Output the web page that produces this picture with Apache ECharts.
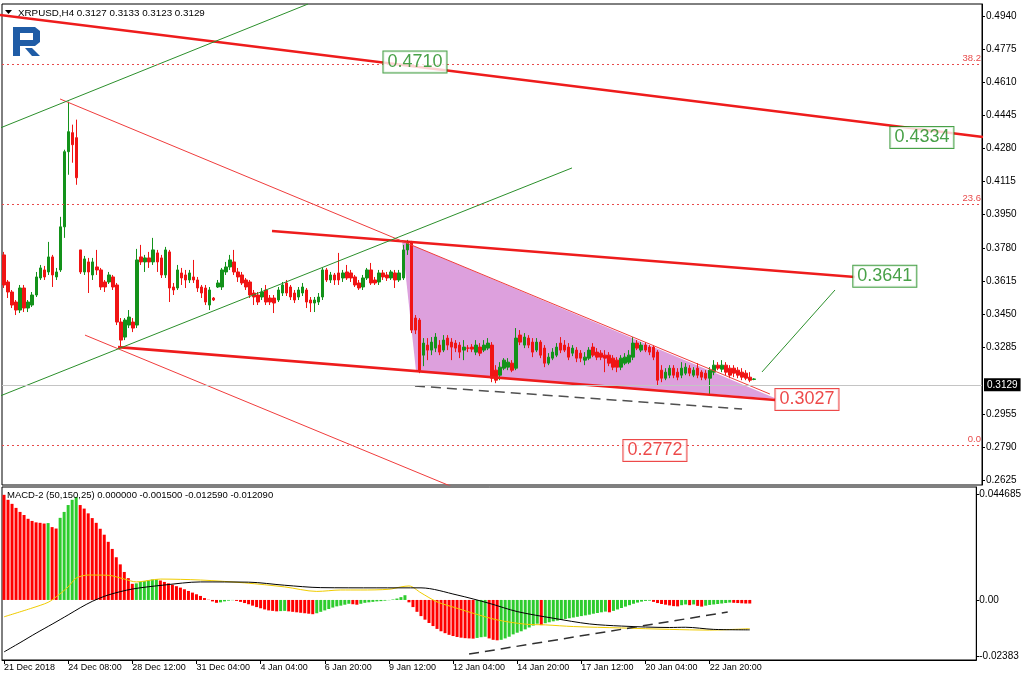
<!DOCTYPE html>
<html><head><meta charset="utf-8">
<script src="https://cdn.jsdelivr.net/npm/echarts@6/dist/echarts.min.js"></script>
<style>html,body{margin:0;padding:0;background:#fff}#c{width:1024px;height:683px}</style>
</head><body><div id="c"></div>
<script>
// ---- candle data (XRPUSD H4) ----
const opens=[.3748,.3613,.3563,.3513,.3473,.3583,.3483,.3498,.3548,.3633,
.3673,.3663,.3738,.3638,.3673,.3888,.4263,.4358,.4333,.3773,
.3663,.3713,.3648,.3688,.3673,.3613,.3613,.3638,.3598,.3413,
.3338,.3398,.3413,.3398,.3738,.3713,.3733,.3713,.3758,.3733,
.3648,.3763,.3588,.3583,.3658,.3648,.3623,.3638,.3623,.3588,
.3583,.3498,.3533,.3588,.3588,.3663,.3688,.3713,.3663,.3648,
.3623,.3613,.3558,.3548,.3538,.3573,.3533,.3533,.3523,.3558,
.3608,.3588,.3558,.3538,.3558,.3573,.3523,.3508,.3513,.3538,
.3673,.3623,.3648,.3658,.3633,.3663,.3658,.3638,.3608,.3588,
.3633,.3673,.3623,.3613,.3658,.3648,.3633,.3658,.3623,.3633,
.3773,.3808,.3433,.3423,.3248,.3298,.3273,.3283,.3298,.3273,
.3333,.3313,.3308,.3298,.3273,.3283,.3288,.3263,.3288,.3273,
.3283,.3298,.3173,.3148,.3183,.3188,.3208,.3183,.3348,.3298,
.3333,.3313,.3273,.3313,.3283,.3208,.3233,.3248,.3308,.3298,
.3288,.3258,.3273,.3258,.3223,.3233,.3288,.3263,.3258,.3248,
.3248,.3233,.3223,.3188,.3208,.3213,.3238,.3308,.3273,.3298,
.3288,.3288,.3263,.3173,.3133,.3148,.3183,.3163,.3148,.3158,
.3183,.3148,.3183,.3163,.3158,.3133,.3163,.3198,.3178,.3198,
.3183,.3183,.3173,.3163,.3158,.3138,.3127];
const closes=[.3598,.3563,.3498,.3473,.3583,.3483,.3513,.3548,.3638,.3683,
.3638,.3738,.3648,.3663,.3888,.4263,.4363,.4298,.4133,.3663,
.3728,.3663,.3713,.3673,.3588,.3588,.3648,.3588,.3413,.3323,
.3423,.3438,.3383,.3723,.3713,.3733,.3713,.3773,.3713,.3648,
.3773,.3583,.3573,.3673,.3633,.3623,.3658,.3623,.3583,.3558,
.3513,.3573,.3523,.3608,.3673,.3688,.3723,.3663,.3638,.3608,
.3588,.3548,.3538,.3513,.3563,.3513,.3513,.3508,.3573,.3598,
.3558,.3538,.3523,.3573,.3588,.3513,.3508,.3523,.3538,.3673,
.3623,.3648,.3623,.3623,.3658,.3633,.3633,.3598,.3583,.3633,
.3673,.3608,.3608,.3658,.3638,.3633,.3663,.3623,.3658,.3773,
.3808,.3373,.3373,.3173,.3308,.3273,.3313,.3338,.3263,.3323,
.3298,.3288,.3283,.3263,.3288,.3283,.3278,.3298,.3258,.3298,
.3308,.3133,.3123,.3188,.3223,.3213,.3173,.3333,.3313,.3338,
.3298,.3263,.3313,.3248,.3208,.3238,.3263,.3288,.3273,.3273,
.3238,.3283,.3233,.3233,.3238,.3273,.3248,.3238,.3238,.3233,
.3208,.3188,.3188,.3233,.3238,.3248,.3308,.3283,.3298,.3273,
.3263,.3238,.3123,.3133,.3163,.3183,.3148,.3138,.3183,.3188,
.3158,.3173,.3148,.3138,.3133,.3173,.3198,.3183,.3198,.3163,
.3148,.3158,.3148,.3138,.3133,.3123,.3129];
const lows=[.3583,.3533,.3483,.3448,.3458,.3463,.3463,.3488,.3538,.3623,
.3623,.3648,.3588,.3623,.3663,.3833,.4148,.4208,.4098,.3653,
.3648,.3558,.3623,.3648,.3573,.3563,.3603,.3573,.3398,.3283,
.3323,.3383,.3363,.3383,.3698,.3663,.3683,.3698,.3663,.3633,
.3633,.3513,.3548,.3573,.3598,.3583,.3608,.3608,.3563,.3533,
.3498,.3473,.3518,.3583,.3573,.3648,.3673,.3648,.3613,.3598,
.3573,.3533,.3498,.3498,.3523,.3498,.3498,.3458,.3513,.3543,
.3543,.3523,.3508,.3523,.3543,.3483,.3463,.3463,.3498,.3523,
.3613,.3608,.3598,.3598,.3613,.3623,.3613,.3588,.3573,.3573,
.3623,.3598,.3598,.3598,.3623,.3618,.3623,.3583,.3613,.3623,
.3748,.3358,.3353,.3158,.3193,.3223,.3248,.3263,.3248,.3263,
.3273,.3223,.3263,.3233,.3223,.3263,.3263,.3248,.3243,.3263,
.3273,.3113,.3108,.3123,.3173,.3173,.3163,.3173,.3298,.3283,
.3283,.3238,.3263,.3233,.3188,.3198,.3223,.3238,.3258,.3263,
.3223,.3243,.3213,.3213,.3198,.3223,.3238,.3223,.3223,.3163,
.3193,.3173,.3163,.3173,.3198,.3203,.3223,.3273,.3263,.3263,
.3248,.3223,.3098,.3113,.3123,.3133,.3133,.3123,.3133,.3148,
.3143,.3138,.3133,.3123,.3123,.3048,.3148,.3173,.3163,.3148,
.3133,.3138,.3133,.3123,.3123,.3113,.3123];
const highs=[.3763,.3623,.3573,.3523,.3598,.3598,.3523,.3563,.3663,.3698,
.3693,.3813,.3748,.3683,.3938,.4273,.4513,.4398,.4423,.3773,
.3743,.3733,.3733,.3773,.3683,.3623,.3663,.3648,.3608,.3433,
.3433,.3473,.3433,.3778,.3798,.3748,.3763,.3833,.3773,.3748,
.3788,.3773,.3608,.3698,.3683,.3673,.3673,.3723,.3638,.3598,
.3598,.3588,.3538,.3623,.3683,.3713,.3748,.3773,.3683,.3663,
.3633,.3623,.3573,.3563,.3583,.3598,.3548,.3548,.3588,.3613,
.3623,.3598,.3573,.3588,.3608,.3583,.3538,.3538,.3558,.3683,
.3683,.3663,.3658,.3758,.3673,.3698,.3673,.3648,.3623,.3648,
.3683,.3708,.3638,.3673,.3673,.3663,.3673,.3673,.3673,.3798,
.3823,.3818,.3448,.3433,.3333,.3333,.3338,.3358,.3323,.3348,
.3348,.3333,.3323,.3313,.3323,.3298,.3303,.3323,.3308,.3323,
.3333,.3313,.3198,.3213,.3233,.3233,.3223,.3383,.3373,.3358,
.3348,.3333,.3333,.3323,.3298,.3258,.3283,.3308,.3338,.3323,
.3308,.3298,.3288,.3273,.3263,.3288,.3308,.3283,.3273,.3273,
.3263,.3248,.3238,.3248,.3258,.3273,.3338,.3323,.3313,.3313,
.3298,.3298,.3273,.3198,.3183,.3198,.3198,.3183,.3213,.3208,
.3198,.3188,.3208,.3173,.3173,.3188,.3223,.3213,.3223,.3213,
.3198,.3198,.3188,.3183,.3173,.3163,.3133];

// ---- MACD-2 (50,150,25) ----
const macdHist=[0.0443,0.0422,0.0405,0.0388,0.0371,0.0358,0.0342,0.0333,0.0327,0.0325,
0.0322,0.0324,0.0307,0.0301,0.0346,0.0371,0.0400,0.0422,0.0434,0.0400,
0.0385,0.0365,0.0345,0.0325,0.0300,0.0275,0.0245,0.0215,0.0180,0.0150,
0.0118,0.0092,0.0068,0.0070,0.0076,0.0080,0.0083,0.0086,0.0087,0.0082,
0.0076,0.0070,0.0064,0.0058,0.0052,0.0045,0.0038,0.0031,0.0024,0.0017,
0.0008,0.0001,-0.0006,-0.0012,-0.0010,-0.0006,-0.0003,-0.0001,-0.0004,-0.0008,
-0.0013,-0.0018,-0.0024,-0.0030,-0.0035,-0.0040,-0.0044,-0.0046,-0.0048,-0.0047,
-0.0046,-0.0048,-0.0050,-0.0052,-0.0054,-0.0056,-0.0058,-0.0060,-0.0056,-0.0050,
-0.0044,-0.0038,-0.0032,-0.0027,-0.0024,-0.0020,-0.0016,-0.0018,-0.0020,-0.0016,
-0.0012,-0.0010,-0.0008,-0.0006,-0.0005,-0.0003,-0.0001,0.0002,0.0006,0.0012,
0.0020,-0.0010,-0.0030,-0.0050,-0.0068,-0.0083,-0.0097,-0.0110,-0.0122,-0.0132,
-0.0140,-0.0147,-0.0152,-0.0156,-0.0159,-0.0161,-0.0162,-0.0163,-0.0160,-0.0157,
-0.0155,-0.0162,-0.0168,-0.0170,-0.0168,-0.0162,-0.0155,-0.0145,-0.0138,-0.0132,
-0.0124,-0.0116,-0.0108,-0.0100,-0.0106,-0.0098,-0.0094,-0.0090,-0.0087,-0.0084,
-0.0080,-0.0077,-0.0074,-0.0071,-0.0068,-0.0065,-0.0062,-0.0058,-0.0055,-0.0052,
-0.0049,-0.0052,-0.0046,-0.0040,-0.0034,-0.0028,-0.0022,-0.0016,-0.0011,-0.0007,
-0.0004,-0.0003,-0.0008,-0.0013,-0.0017,-0.0020,-0.0023,-0.0026,-0.0027,-0.0022,
-0.0019,-0.0022,-0.0019,-0.0025,-0.0028,-0.0024,-0.0021,-0.0019,-0.0017,-0.0015,
-0.0013,-0.0011,-0.0012,-0.0013,-0.0014,-0.0015,-0.0015];
const macdMain=[[0,-0.0219],[4,-0.0180],[8,-0.0140],[12,-0.0102],[16,-0.0063],[19,-0.0033],[22,-0.0006],[26,0.0021],[32,0.0046],[40,0.0063],[49,0.0076],[61,0.0075],[70,0.0062],[79,0.0052],[93,0.0051],[104,0.0051],[113,0.0021],[121,-0.0014],[128,-0.0049],[137,-0.0077],[146,-0.0101],[154,-0.0110],[166,-0.0116],[170,-0.0115],[177,-0.0124],[186,-0.0126]];
const macdSignal=[[0,-0.0071],[7,-0.0034],[11,-0.0010],[13,0.0013],[16,0.0055],[18,0.0092],[21,0.0105],[26,0.0104],[30,0.0088],[33,0.0076],[39,0.0088],[49,0.0084],[60,0.0072],[70,0.0055],[78,0.0036],[84,0.0042],[89,0.0042],[96,0.0045],[99,0.0055],[101,0.0059],[104,0.0030],[108,-0.0008],[113,-0.0035],[117,-0.0056],[123,-0.0084],[130,-0.0102],[135,-0.0105],[142,-0.0112],[154,-0.0118],[166,-0.0124],[176,-0.0127],[186,-0.0121]];
const macdTrend=[[116.0,-0.0228],[180.5,-0.0051]];

// ---- axes ----
const slotCount=243;
const timeLabels=['21 Dec 2018','24 Dec 08:00','28 Dec 12:00','31 Dec 04:00','4 Jan 04:00','6 Jan 20:00','9 Jan 12:00','12 Jan 04:00','14 Jan 20:00','17 Jan 12:00','20 Jan 04:00','22 Jan 20:00'];
const labelStep=16;
const priceTicks=[0.4940,0.4775,0.4610,0.4445,0.4280,0.4115,0.3950,0.3780,0.3615,0.3450,0.3285,0.2955,0.2790,0.2625];
const macdTicks=[0.044685,0,-0.02383];
const macdTickText=['0.044685','0.00','-0.02383'];

// ---- drawn objects ----
const fibLevels=[0.4710,0.3969,0.2772];
const fibNames=['38.2','23.6','0.0'];
const priceTags=[0.4710,0.4334,0.3641,0.3027,0.2772];
const priceTagBars=[101.9,227.6,218.4,199.1,161.4];
const priceTagColors=['#1a8a1a','#1a8a1a','#1a8a1a','#e81c1c','#e81c1c'];
const redTopLine=[[-0.99,0.4945],[242.75,0.4336]];
const redUpperLine=[[66.45,0.3867],[211.0,0.3638]];
const redLowerLine=[[28.27,0.3288],[191.2,0.3024]];
const thinRedDiag=[[13.89,0.4526],[189.9,0.3054]];
const thinRedLower=[[20.08,0.3348],[113.07,0.2575]];
const greenUpper=[[-0.99,0.4381],[75.38,0.5000]];
const greenLower=[[-0.99,0.3044],[140.84,0.4182]];
const dashedSupport=[[101.9,0.3094],[183.0,0.2979]];
const arrowLine=[[187.95,0.3164],[206.05,0.3573]];
const wedge=[[98.69,0.3817],[102.16,0.3169],[191.67,0.3029]];

const FONT='"Liberation Sans", Arial, sans-serif';
const GREEN='#13921a', RED='#f01414';
const cats=Array.from({length:slotCount},(_,i)=>String(i));
const candles=opens.map((o,i)=>[o,closes[i],lows[i],highs[i]]);
const last=opens.length-1;
const showLabel=i=>i%labelStep===0 && i/labelStep<timeLabels.length;

function seg(data,color,width,type,z){
  return {type:'line',xAxisIndex:1,yAxisIndex:0,data:data,symbol:'none',silent:true,clip:true,z:z||4,
    lineStyle:{color:color,width:width,type:type||'solid'}};
}

const chart=echarts.init(document.getElementById('c'),null,{renderer:'canvas'});
const option={
  animation:false,
  backgroundColor:'#fff',
  grid:[
    {left:2,top:4,width:980,height:481,show:true,borderColor:'#000',borderWidth:1},
    {left:2,top:487,width:980,height:173,show:true,borderColor:'#000',borderWidth:1}
  ],
  xAxis:[
    {type:'category',gridIndex:0,data:cats,boundaryGap:true,show:false,axisLine:{onZero:false}},
    {type:'value',gridIndex:0,min:-0.5,max:slotCount-0.5,show:false,axisLine:{onZero:false}},
    {type:'category',gridIndex:1,data:cats,boundaryGap:true,position:'bottom',
      axisLine:{onZero:false,lineStyle:{color:'#000'}},
      axisTick:{show:true,alignWithLabel:true,length:4,interval:(i)=>showLabel(i),lineStyle:{color:'#000'}},
      axisLabel:{interval:(i)=>showLabel(i),align:'left',margin:3,fontSize:9,color:'#000',fontFamily:FONT,
        formatter:(v)=>{const i=Number(v);return showLabel(i)?timeLabels[i/labelStep]:'';}},
      splitLine:{show:false}},
    {type:'value',gridIndex:1,min:-0.5,max:slotCount-0.5,show:false,axisLine:{onZero:false}}
  ],
  yAxis:[
    {type:'value',gridIndex:0,position:'right',min:0.26,max:0.50,
      axisLine:{show:true,onZero:false,lineStyle:{color:'#000'}},
      axisTick:{show:true,inside:false,length:3,customValues:priceTicks,lineStyle:{color:'#000'}},
      axisLabel:{customValues:priceTicks,formatter:(v)=>v.toFixed(4),fontSize:10,color:'#000',fontFamily:FONT,margin:4},
      splitLine:{show:false}},
    {type:'value',gridIndex:1,position:'right',min:-0.0253,max:0.0476,
      axisLine:{show:true,onZero:false,lineStyle:{color:'#000'}},
      axisTick:{show:true,inside:false,length:3,customValues:macdTicks,lineStyle:{color:'#000'}},
      axisLabel:{customValues:macdTicks,fontSize:10,color:'#000',fontFamily:FONT,margin:3,
        formatter:(v)=>{const k=macdTicks.findIndex(t=>Math.abs(t-v)<1e-9);return k>=0?macdTickText[k]:String(v);}},
      splitLine:{show:false}}
  ],
  graphic:[
    {type:'polygon',shape:{points:[[5,10],[12,10],[8.5,14]]},style:{fill:'#000'},z:100},
    {type:'text',x:18,y:8,z:100,style:{text:'XRPUSD,H4 '+[opens[last],highs[last],lows[last],closes[last]].map(v=>v.toFixed(4)).join(' '),font:'9.8px '+FONT,fill:'#000'}},
    {type:'text',x:7,y:490,z:100,style:{text:'MACD-2 (50,150,25) 0.000000 -0.001500 -0.012590 -0.012090',font:'9.5px '+FONT,fill:'#000'}},
    {type:'polygon',z:100,shape:{points:[[13,27],[35,27],[40,31],[40,42],[35,46],[20,46],[20,56],[13,56]]},style:{fill:'#1f5ca6'}},
    {type:'rect',z:101,shape:{x:20,y:33,width:13,height:7},style:{fill:'#fff'}},
    {type:'polygon',z:100,shape:{points:[[25,48],[32,48],[40,56],[32,56]]},style:{fill:'#1f5ca6'}}
  ],
  series:[
    {type:'custom',xAxisIndex:1,yAxisIndex:0,data:wedge,silent:true,z:1,
      renderItem:(params,api)=>{
        if(params.dataIndex!==0) return null;
        return {type:'polygon',shape:{points:wedge.map(p=>api.coord(p))},style:{fill:'#dda0dd'}};
      }},
    {type:'candlestick',xAxisIndex:0,yAxisIndex:0,data:candles,barWidth:3,z:2,
      itemStyle:{color:GREEN,color0:RED,borderColor:GREEN,borderColor0:RED,borderWidth:1},
      markLine:{silent:true,symbol:'none',animation:false,
        data:[
          {yAxis:closes[last],lineStyle:{color:'#c4c4c4',width:1,type:'solid'},
            label:{show:true,position:'end',distance:2,formatter:closes[last].toFixed(4),backgroundColor:'#000',color:'#fff',padding:[2,3,1,3],fontSize:10,fontFamily:FONT}}
        ].concat(fibLevels.map((v,k)=>({yAxis:v,lineStyle:{color:'#e84a4a',width:1,type:[2,3]},
            label:{show:true,position:'insideEndTop',distance:1,formatter:fibNames[k],color:'#e84a4a',fontSize:9.5,fontFamily:FONT}})))
      }},
    seg(redTopLine,'#ee1c1c',2.6),
    seg(redUpperLine,'#ee1c1c',2.6),
    seg(redLowerLine,'#ee1c1c',2.6),
    seg(thinRedDiag,'#f03c3c',1),
    seg(thinRedLower,'#f03c3c',1),
    seg(greenUpper,'#2b8f2b',1),
    Object.assign(seg(greenLower,'#2b8f2b',1),{markLine:{silent:true,symbol:['none','arrow'],symbolSize:[0,9],animation:false,
      label:{show:false},lineStyle:{color:'#2b8f2b',width:1,type:'solid'},
      data:[[{coord:arrowLine[0]},{coord:arrowLine[1]}]]}}),
    seg(dashedSupport,'#505050',1.5,[10,6]),
    {type:'scatter',xAxisIndex:1,yAxisIndex:0,symbol:'circle',symbolSize:1,z:10,silent:true,
      itemStyle:{color:'transparent'},
      data:priceTags.map((p,k)=>({value:[priceTagBars[k],p],
        label:{show:true,position:'inside',formatter:p.toFixed(4),color:priceTagColors[k],borderColor:priceTagColors[k],
          borderWidth:1,backgroundColor:'#fff',padding:[2,4,1,4],fontSize:18,fontFamily:FONT}}))},
    {type:'bar',xAxisIndex:2,yAxisIndex:1,data:macdHist,barWidth:3,silent:true,z:2,
      itemStyle:{color:(p)=>{const i=p.dataIndex;return (i>0&&macdHist[i]>macdHist[i-1])?'#2ecc2e':'#ff0000';}}},
    {type:'line',xAxisIndex:3,yAxisIndex:1,data:macdSignal,symbol:'none',smooth:0.3,silent:true,z:3,
      lineStyle:{color:'#f0cc00',width:1}},
    {type:'line',xAxisIndex:3,yAxisIndex:1,data:macdMain,symbol:'none',smooth:0.3,silent:true,z:4,
      lineStyle:{color:'#000',width:1}},
    {type:'line',xAxisIndex:3,yAxisIndex:1,data:macdTrend,symbol:'none',silent:true,z:5,
      lineStyle:{color:'#303030',width:1.5,type:[10,6]}}
  ]
};
chart.setOption(option);
</script></body></html>
